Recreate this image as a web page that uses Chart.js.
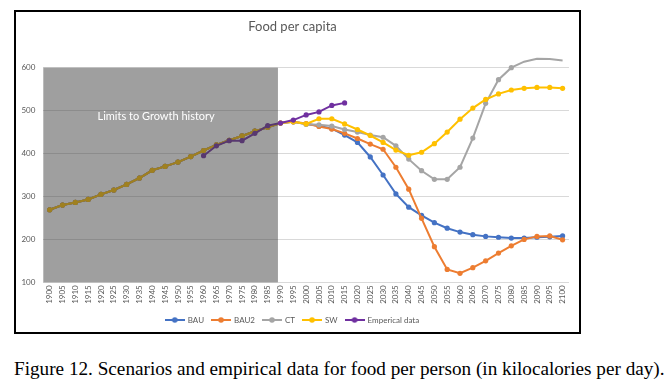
<!DOCTYPE html>
<html>
<head>
<meta charset="utf-8">
<script src="https://cdn.jsdelivr.net/npm/chart.js@4.4.1/dist/chart.umd.min.js"></script>
<style>
  html, body { margin: 0; padding: 0; background: #fff; }
  body { width: 667px; height: 385px; position: relative; overflow: hidden; }
  #frame { position: absolute; left: 14px; top: 10px; width: 563px; height: 320px; border: 2px solid #000; z-index: 2; pointer-events: none; }
  #wrap { position: absolute; left: 16px; top: 12px; width: 563px; height: 322px; }
  #caption { position: absolute; left: 14px; top: 358px; font-family: "Liberation Serif", serif; font-size: 19.2px; line-height: 21px; color: #000; white-space: nowrap; }
</style>
</head>
<body>
<div id="wrap"><canvas id="foodChart" width="563" height="322"></canvas></div>
<div id="frame"></div>
<div id="caption">Figure 12. Scenarios and empirical data for food per person (in kilocalories per day).</div>
<script>
const years = ['1900','1905','1910','1915','1920','1925','1930','1935','1940','1945','1950','1955','1960','1965','1970','1975','1980','1985','1990','1995','2000','2005','2010','2015','2020','2025','2030','2035','2040','2045','2050','2055','2060','2065','2070','2075','2080','2085','2090','2095','2100'];

// shared model history 1900-1990
const history = [269, 280, 286, 293, 305, 315, 328, 343, 361, 370, 380, 393, 407, 420, 431, 441, 452, 461, 471];

// scenarios 1995-2100
const bau  = [474, 469, 465, 458, 443, 426, 392, 350, 306, 275, 256, 239, 226, 217, 211, 207, 205, 203, 203, 205, 206, 208];
const bau2 = [474, 470, 463, 457, 447, 435, 422, 410, 368, 317, 249, 183, 130, 121, 134, 150, 168, 185, 200, 207, 208, 199];
const ct   = [474, 468, 467, 464, 456, 450, 443, 438, 418, 387, 360, 340, 340, 368, 436, 517, 572, 600, 614, 621, 620, 617];
const sw   = [474, 469, 481, 481, 469, 456, 442, 426, 408, 396, 403, 423, 450, 480, 506, 526, 539, 548, 552, 554, 554, 552];

const empYears  = ['1960','1965','1970','1975','1980','1985','1990','1995','2000','2005','2010','2015'];
const empValues = [395, 418, 430, 430, 447, 465, 471, 478, 490, 497, 512, 518];

const yTicks = [100, 200, 300, 400, 500, 600];
const shadeEnd = '1990';
const shadeLabel = 'Limits to Growth history';

const colors = ['#4472C4', '#ED7D31', '#A5A5A5', '#FFC000', '#7030A0'];
const names = ['BAU', 'BAU2', 'CT', 'SW', 'Emperical data'];

function legendMark(color) {
  const c = document.createElement('canvas');
  c.width = 20; c.height = 8;
  const g = c.getContext('2d');
  g.strokeStyle = color; g.lineWidth = 2;
  g.beginPath(); g.moveTo(0, 4); g.lineTo(20, 4); g.stroke();
  g.fillStyle = color;
  g.beginPath(); g.arc(10, 4, 2.8, 0, Math.PI * 2); g.fill();
  return c;
}
const marks = colors.map(legendMark);

function line(i, data, order) {
  return {
    label: names[i],
    data: data,
    borderColor: colors[i],
    backgroundColor: colors[i],
    borderWidth: 2,
    pointRadius: 2.6,
    pointHoverRadius: 2.6,
    pointBorderWidth: 0,
    tension: 0,
    clip: false,
    order: order
  };
}

const historyShade = {
  id: 'historyShade',
  afterDatasetsDraw(chart) {
    const {ctx, chartArea, scales: {x, y}} = chart;
    const right = x.getPixelForValue(years.indexOf(shadeEnd) - 0.2);
    const top = y.getPixelForValue(yTicks[yTicks.length - 1]);
    const bottom = y.getPixelForValue(yTicks[0]);
    ctx.save();
    ctx.fillStyle = 'rgba(64,64,64,0.5)';
    ctx.fillRect(chartArea.left, top, right - chartArea.left, bottom - top);
    ctx.fillStyle = '#ffffff';
    ctx.font = '11px Lato';
    ctx.textAlign = 'center';
    ctx.textBaseline = 'middle';
    ctx.fillText(shadeLabel, x.getPixelForValue(8.3), y.getPixelForValue(487));
    ctx.restore();
  }
};

const ctx = document.getElementById('foodChart').getContext('2d');

new Chart(ctx, {
  type: 'line',
  data: {
    labels: years,
    datasets: [
      line(0, history.concat(bau), 4),
      line(1, history.concat(bau2), 3),
      line(2, history.concat(ct), 2),
      line(3, history.concat(sw), 1),
      line(4, empYears.map((yr, i) => ({x: yr, y: empValues[i]})), 0)
    ]
  },
  options: {
    responsive: false,
    animation: false,
    layout: { padding: { left: 0, right: 10, top: 0, bottom: 0 } },
    plugins: {
      title: {
        display: true,
        text: 'Food per capita',
        color: '#595959',
        font: { family: 'Lato', size: 13, weight: 'normal' },
        padding: { top: 7.2, bottom: 32.9 }
      },
      legend: {
        position: 'bottom',
        labels: {
          usePointStyle: true,
          pointStyleWidth: 18,
          padding: 8,
          color: '#595959',
          font: { family: 'Lato', size: 8 },
          sort: (a, b) => a.datasetIndex - b.datasetIndex,
          generateLabels(chart) {
            const items = Chart.defaults.plugins.legend.labels.generateLabels(chart);
            items.forEach(it => { it.pointStyle = marks[it.datasetIndex]; });
            return items;
          }
        }
      },
      tooltip: { enabled: false }
    },
    scales: {
      x: {
        offset: true,
        grid: { display: false, drawTicks: false },
        border: { display: false },
        ticks: {
          autoSkip: false,
          minRotation: 90,
          maxRotation: 90,
          padding: 3,
          color: '#595959',
          font: { family: 'Lato', size: 8 }
        },
        afterFit(s) { s.height = 25.7; }
      },
      y: {
        min: yTicks[0],
        max: yTicks[yTicks.length - 1],
        grid: { color: '#d9d9d9', lineWidth: 1, drawTicks: false },
        border: { display: false },
        ticks: {
          stepSize: 100,
          padding: 8,
          color: '#595959',
          font: { family: 'Lato', size: 8 }
        },
        afterFit(s) { s.width = 27.3; }
      }
    }
  },
  plugins: [historyShade]
});
</script>
</body>
</html>
